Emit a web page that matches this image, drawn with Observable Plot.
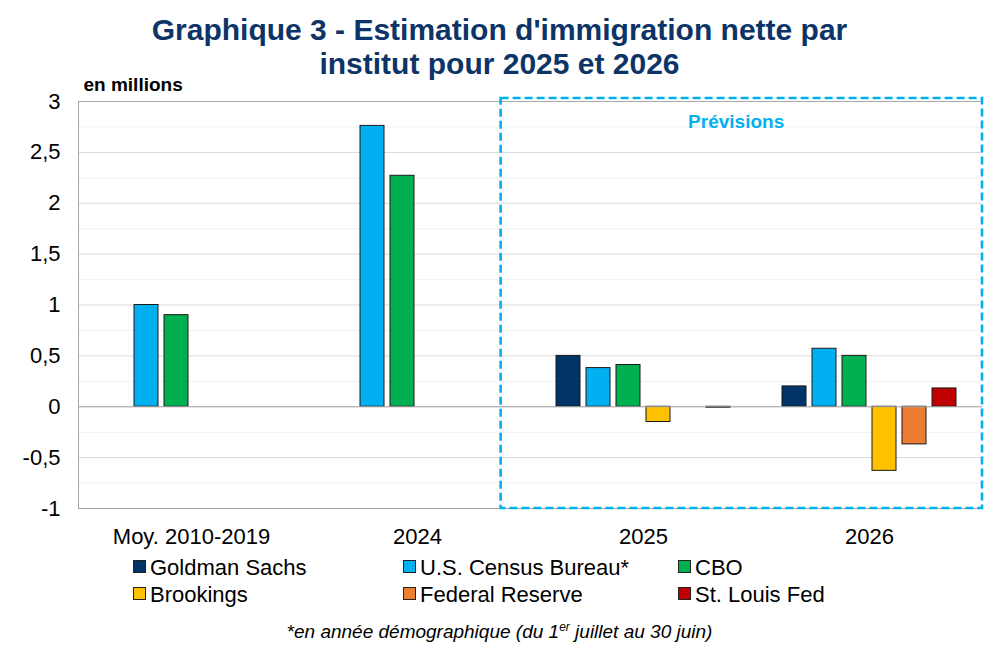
<!DOCTYPE html>
<html>
<head>
<meta charset="utf-8">
<script src="https://cdn.jsdelivr.net/npm/d3@7"></script>
<script src="https://cdn.jsdelivr.net/npm/@observablehq/plot@0.6"></script>
<style>
  html, body { margin: 0; padding: 0; background: #fff; }
  body { width: 999px; height: 651px; position: relative; overflow: hidden; font-family: "Liberation Sans", Arial, sans-serif; }
  #title { position: absolute; left: 0; top: 13px; width: 999px; text-align: center; font-weight: bold; font-size: 30px; line-height: 34px; color: #0d3467; z-index: 2; }
  #chart { position: absolute; left: 0; top: 70px; z-index: 1; }
  .leg { position: absolute; font-size: 22px; color: #000; line-height: 24px; white-space: nowrap; z-index: 2; }
  .sw { display: inline-block; width: 11px; height: 11px; border: 1px solid #222; margin-right: 4px; vertical-align: 2px; }
  #foot { position: absolute; left: 0; width: 999px; top: 620px; text-align: center; font-style: italic; font-size: 19px; color: #000; z-index: 2; }
  #foot sup { font-size: 12px; }
</style>
</head>
<body>
<div id="title">Graphique 3 - Estimation d'immigration nette par<br>institut pour 2025 et 2026</div>
<div id="chart"></div>
<div id="legend"></div>
<div id="foot">*en année démographique (du 1<sup>er</sup> juillet au 30 juin)</div>
<script>
const categories = ["Moy. 2010-2019", "2024", "2025", "2026"];
const series = ["Goldman Sachs", "U.S. Census Bureau*", "CBO", "Brookings", "Federal Reserve", "St. Louis Fed"];
const colors = ["#003366", "#00B0F0", "#00B050", "#FFC000", "#ED7D31", "#C00000"];
const goldmanSachs   = [null, null, 0.50, 0.20];
const censusBureau   = [1.00, 2.76, 0.38, 0.57];
const cbo            = [0.90, 2.27, 0.41, 0.50];
const brookings      = [null, null, -0.15, -0.63];
const federalReserve = [null, null, null, -0.37];
const stLouisFed     = [null, null, -0.01, 0.18];
const yTicks = [-1, -0.5, 0, 0.5, 1, 1.5, 2, 2.5, 3];
const forecastLabel = "Prévisions";

const valuesBySeries = [goldmanSachs, censusBureau, cbo, brookings, federalReserve, stLouisFed];
const step = 30 / 226, half = 12 / 226;
const rows = [];
valuesBySeries.forEach((vals, si) => {
  vals.forEach((v, ci) => {
    if (v == null) return;
    const c = ci + (si - 2.5) * step;
    rows.push({series: series[si], x1: c - half, x2: c + half, value: v});
  });
});

const majors = d3.range(-1, 3.01, 0.5);
const minors = d3.range(-0.75, 3, 0.5);

const chart = Plot.plot({
  width: 999,
  height: 480,
  marginLeft: 78,
  marginRight: 17,
  marginTop: 31,
  marginBottom: 42,
  style: {fontFamily: "'Liberation Sans', Arial, sans-serif", fontSize: "22px", color: "#000", background: "transparent"},
  x: {domain: [-0.5, 3.5], ticks: [0, 1, 2, 3], tickFormat: i => categories[i], tickSize: 0, tickPadding: 20, label: null},
  y: {domain: [-1, 3], ticks: yTicks, tickFormat: d => String(d).replace(".", ","), tickSize: 0, tickPadding: 18, label: null},
  color: {domain: series, range: colors},
  marks: [
    Plot.ruleY(minors, {stroke: "#f0f0f0", strokeWidth: 1}),
    Plot.ruleY(majors, {stroke: "#d9d9d9", strokeWidth: 1}),
    Plot.ruleY([3, -1], {stroke: "#a6a6a6", strokeWidth: 1}),
    Plot.ruleX([-0.5], {stroke: "#a6a6a6", strokeWidth: 1}),
    Plot.rectY(rows, {x1: "x1", x2: "x2", y1: 0, y2: "value", fill: "series", stroke: "#1a1a1a", strokeWidth: 1}),
    Plot.ruleY([0], {stroke: "#a6a6a6", strokeWidth: 1}),
    Plot.rect([{x1: 1.37, x2: 3.5, y1: -1, y2: 3.03}], {x1: "x1", x2: "x2", y1: "y1", y2: "y2", fill: "none", stroke: "#00B0F0", strokeWidth: 2.6, strokeDasharray: "8,4"}),
    Plot.text([forecastLabel], {x: 2.41, y: 2.8, text: d => d, fill: "#00B0F0", fontWeight: "bold", fontSize: 19}),
    Plot.text(["en millions"], {frameAnchor: "top-left", dx: 5, dy: -24, text: d => d, fontWeight: "bold", fontSize: 19, textAnchor: "start"})
  ]
});
document.getElementById("chart").appendChild(chart);

const legend = document.getElementById("legend");
const colX = [133, 403, 678];
const rowY = [556, 583];
series.forEach((s, i) => {
  const el = document.createElement("div");
  el.className = "leg";
  el.style.left = colX[i % 3] + "px";
  el.style.top = rowY[Math.floor(i / 3)] + "px";
  el.innerHTML = `<span class="sw" style="background:${colors[i]}"></span>${s}`;
  legend.appendChild(el);
});
</script>
</body>
</html>
